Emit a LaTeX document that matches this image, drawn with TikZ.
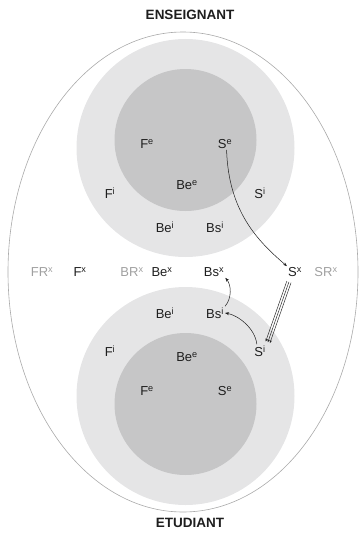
\documentclass[tikz,border=0pt]{standalone}
\usepackage{fontspec}
\setmainfont{Liberation Sans}
\usetikzlibrary{arrows.meta,calc}
\definecolor{comlight}{RGB}{229,229,230}
\definecolor{comdark}{RGB}{198,198,199}
\definecolor{comline}{RGB}{170,170,170}
\definecolor{comgrey}{RGB}{160,160,160}
\definecolor{comtext}{RGB}{30,30,30}
\tikzset{
  lbl/.style={inner sep=1pt, text=comtext, font=\fontsize{13}{15}\selectfont},
  glbl/.style={lbl, text=comgrey},
  ttl/.style={inner sep=1pt, text=comtext, font=\fontsize{13.5}{16}\selectfont\bfseries},
  carr/.style={-{Stealth[length=4pt,width=3pt]}, line width=0.5pt, comtext},
  tarr/.style={-{Stealth[length=3pt,width=2.4pt]}, line width=0.45pt, comtext},
}
\newcommand{\sx}[2]{#1\textsuperscript{#2}}

\begin{document}
\begin{tikzpicture}[x=1pt,y=-1pt]
        \useasboundingbox (0,0) rectangle (361,535);
        % zones
        \draw[comline,line width=0.6pt] (183,272) ellipse [x radius=175, y radius=240];
        \fill[comlight] (185.5,148) circle [radius=109];
        \fill[comdark] (185.5,140) circle [radius=71];
        \fill[comlight] (185.5,396) circle [radius=109];
        \fill[comdark] (185.5,404) circle [radius=71];
        % titles
        \node[ttl](ens) at (190,15){ENSEIGNANT};
        \node[ttl](etu) at (190,523){ETUDIANT};
        % enseignant
        \node[lbl](ensFe) at (147,144){\sx{F}{e}};
        \node[lbl](ensSe) at (225,144){\sx{S}{e}};
        \node[lbl](ensBee) at (187,185){\sx{Be}{e}};
        \node[lbl](ensFi) at (110,193){\sx{F}{i}};
        \node[lbl](ensSi) at (260,193){\sx{S}{i}};
        \node[lbl](ensBei) at (165,227){\sx{Be}{i}};
        \node[lbl](ensBsi) at (215,227){\sx{Bs}{i}};
        % exterieur
        \node[glbl](FRx) at (42,272){\sx{FR}{x}};
        \node[lbl](Fx) at (80,272){\sx{F}{x}};
        \node[glbl](BRx) at (132,272){\sx{BR}{x}};
        \node[lbl](Bex) at (162,272){\sx{Be}{x}};
        \node[lbl](Bsx) at (214,272){\sx{Bs}{x}};
        \node[lbl](Sx) at (295,272){\sx{S}{x}};
        \node[glbl](SRx) at (326,272){\sx{SR}{x}};
        % etudiant
        \node[lbl](etuBei) at (165,313){\sx{Be}{i}};
        \node[lbl](etuBsi) at (215,313){\sx{Bs}{i}};
        \node[lbl](etuFi) at (110,351){\sx{F}{i}};
        \node[lbl](etuSi) at (260,351){\sx{S}{i}};
        \node[lbl](etuBee) at (187,357){\sx{Be}{e}};
        \node[lbl](etuFe) at (147,391){\sx{F}{e}};
        \node[lbl](etuSe) at (225,391){\sx{S}{e}};
        % fleches
        \coordinate(tA) at ($(Sx.south west)+(2,4)$);
        \coordinate(tB) at ($(etuSi.north east)+(1,-2)$);
        \draw[carr](ensSe.-75) .. controls +(2,62) and +(-29,-25) .. (Sx.north west);
        \draw[tarr](tA) -- (tB);
        \draw[tarr,transform canvas={shift={(2.1,0.8)}}](tA) -- (tB);
        \draw[tarr,transform canvas={shift={(-2.1,-0.8)}}](tA) -- (tB);
        \draw[carr](etuSi.115) .. controls +(-2,-17) and +(12,2) .. (etuBsi.east);
        \draw[carr](etuBsi.north east) .. controls +(7,-8) and +(6,7) .. (Bsx.south east);
    \end{tikzpicture}
\end{document}
